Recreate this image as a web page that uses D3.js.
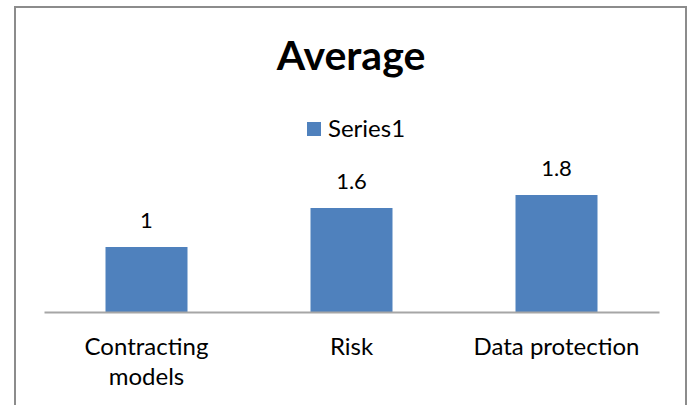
<!DOCTYPE html>
<html>
<head>
<meta charset="utf-8">
<script src="https://cdn.jsdelivr.net/npm/d3@7"></script>
<style>
  html, body { margin: 0; padding: 0; background: #fff; }
  svg { display: block; }
  text { font-family: Lato, "Open Sans", sans-serif; fill: #000; }
</style>
</head>
<body>
<svg id="chart" width="691" height="405"></svg>
<script>
const title = "Average";
const seriesName = "Series1";
const categories = [["Contracting", "models"], ["Risk"], ["Data protection"]];
const values = [1, 1.6, 1.8];
const yDomain = [0, 2];

const svg = d3.select("#chart");

// chart border
svg.append("rect")
  .attr("x", 15).attr("y", 7)
  .attr("width", 671).attr("height", 410)
  .attr("fill", "#fff")
  .attr("stroke", "#8c8c8c").attr("stroke-width", 2);

const plot = { left: 44, right: 659, top: 182, bottom: 312 };

const x = d3.scaleBand()
  .domain(categories.map(c => c.join(" ")))
  .range([plot.left, plot.right])
  .paddingInner(0.6).paddingOuter(0.3);

const y = d3.scaleLinear().domain(yDomain).range([plot.bottom, plot.top]);

// bars
svg.append("g").selectAll("rect")
  .data(values)
  .join("rect")
  .attr("x", (d, i) => x(categories[i].join(" ")))
  .attr("y", d => y(d))
  .attr("width", x.bandwidth())
  .attr("height", d => y(0) - y(d))
  .attr("fill", "#4f81bd");

// axis
const xAxis = d3.axisBottom(x).tickSize(0).tickFormat("");
const ax = svg.append("g").attr("transform", `translate(0,${plot.bottom})`).call(xAxis);
ax.select(".domain").attr("stroke", "#a6a6a6").attr("stroke-width", 2);

// category labels
const labels = svg.append("g").selectAll("text")
  .data(categories)
  .join("text")
  .attr("x", d => x(d.join(" ")) + x.bandwidth() / 2)
  .attr("y", 355)
  .attr("text-anchor", "middle")
  .style("font-size", "24px");
labels.selectAll("tspan")
  .data(d => d)
  .join("tspan")
  .attr("x", function() { return d3.select(this.parentNode).attr("x"); })
  .attr("dy", (d, i) => i === 0 ? 0 : 30)
  .text(d => d);

// value labels
svg.append("g").selectAll("text")
  .data(values)
  .join("text")
  .attr("x", (d, i) => x(categories[i].join(" ")) + x.bandwidth() / 2)
  .attr("y", d => y(d) - 19)
  .attr("text-anchor", "middle")
  .style("font-size", "22px")
  .text(d => d);

// title
svg.append("text")
  .attr("x", 351).attr("y", 70)
  .attr("text-anchor", "middle")
  .style("font-size", "41px").style("font-weight", "bold")
  .text(title);

// legend
svg.append("rect")
  .attr("x", 307).attr("y", 122).attr("width", 14).attr("height", 14)
  .attr("fill", "#4f81bd");
svg.append("text")
  .attr("x", 328).attr("y", 137)
  .style("font-size", "24px")
  .text(seriesName);
</script>
</body>
</html>
